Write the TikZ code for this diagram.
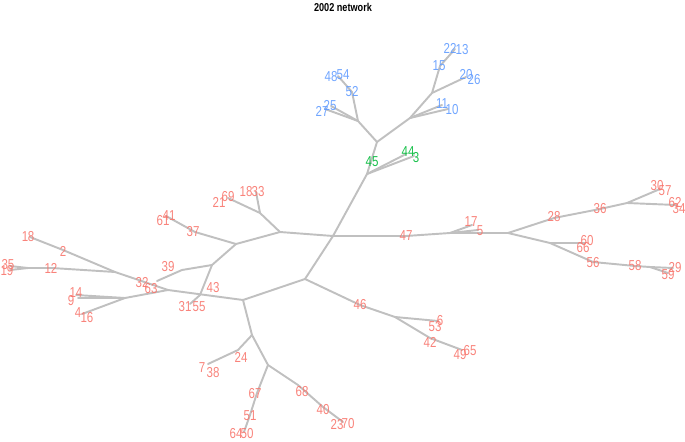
\documentclass[tikz,border=0pt]{standalone}
\usepackage{fontspec}
\usepackage{graphicx}
\setmainfont{Liberation Sans}
\definecolor{lred}{HTML}{F8766D}
\definecolor{lgreen}{HTML}{00BA38}
\definecolor{lblue}{HTML}{619CFF}
\definecolor{edgegray}{HTML}{C0C0C0}
\newcommand{\sq}[1]{\scalebox{0.8}[1]{#1}}
\tikzset{
  br/.style={draw=edgegray, line width=1.1pt, line cap=round, line join=round},
  lab/.style={font=\fontsize{8.2}{8}\selectfont, inner sep=0pt, opacity=0.9},
  rl/.style={lab, text=lred},
  gl/.style={lab, text=lgreen},
  bl/.style={lab, text=lblue},
}
\begin{document}
\begin{tikzpicture}[x=0.02cm, y=-0.02cm]
\useasboundingbox (0,0) rectangle (685,442);
% junction and tip coordinates
\coordinate (C) at (333,236);
\coordinate (U1) at (367,174);
\coordinate (Jb) at (377,142);
\coordinate (Ge) at (406,154);
\coordinate (Ge2) at (414,156);
\coordinate (B1) at (358,121);
\coordinate (Be1) at (325,109);
\coordinate (Be1b) at (331,106);
\coordinate (Bp52) at (352,92);
\coordinate (Be2) at (338,76);
\coordinate (B2) at (410,118);
\coordinate (Be3) at (442,105);
\coordinate (Be3b) at (448,109);
\coordinate (B3) at (432,93);
\coordinate (Be4) at (466,77);
\coordinate (Bp15) at (440,66);
\coordinate (Be5) at (455,49);
\coordinate (Rp47) at (406,236);
\coordinate (R1) at (450,233);
\coordinate (Re1) at (472,225);
\coordinate (Re1b) at (478,230);
\coordinate (R2) at (508,233);
\coordinate (Rp28) at (554,218);
\coordinate (Rp36) at (600,209);
\coordinate (R3) at (627,203);
\coordinate (Re2) at (660,189);
\coordinate (Re3) at (676,205);
\coordinate (R4) at (550,243);
\coordinate (Re4) at (585,243);
\coordinate (Rp56) at (593,262);
\coordinate (Rp58) at (635,266);
\coordinate (R5) at (650,267);
\coordinate (Re5) at (673,268);
\coordinate (Re5b) at (668,273);
\coordinate (L1) at (280,232);
\coordinate (L2) at (260,213);
\coordinate (Le1) at (228,198);
\coordinate (Le2) at (256,192);
\coordinate (L3) at (236,244);
\coordinate (Lp37) at (195,232);
\coordinate (Le3) at (166,216);
\coordinate (L4) at (212,265);
\coordinate (Lp39) at (182,270);
\coordinate (Le4) at (157,281);
\coordinate (L5) at (200,295);
\coordinate (Le5) at (190,304);
\coordinate (D1) at (305,279);
\coordinate (D2) at (243,300);
\coordinate (P1) at (168,290);
\coordinate (P0) at (115,272);
\coordinate (Pp2) at (63,250);
\coordinate (Pe1) at (30,237);
\coordinate (Pp12) at (52,268);
\coordinate (Pj) at (28,268);
\coordinate (Pe2) at (10,266);
\coordinate (Pe2b) at (10,270);
\coordinate (P2) at (125,298);
\coordinate (Pe3) at (76,295);
\coordinate (Pe3b) at (78,298);
\coordinate (Pe4) at (82,314);
\coordinate (D3) at (252,335);
\coordinate (Dp24) at (238,350);
\coordinate (De1) at (208,364);
\coordinate (D4) at (268,365);
\coordinate (Dp67) at (257,393);
\coordinate (Dp51) at (250,415);
\coordinate (De2) at (244,432);
\coordinate (Dp68) at (298,385);
\coordinate (Dp40) at (323,407);
\coordinate (De3) at (343,422);
\coordinate (Dp46) at (360,305);
\coordinate (D5) at (395,317);
\coordinate (De4) at (438,321);
\coordinate (Dp42) at (430,338);
\coordinate (De5) at (462,350);
% branches
\draw[br] (C) -- (U1) -- (Jb);
\draw[br] (U1) -- (Ge); \draw[br] (U1) -- (Ge2);
\draw[br] (Jb) -- (B1) -- (Be1); \draw[br] (B1) -- (Be1b);
\draw[br] (B1) -- (Bp52) -- (Be2);
\draw[br] (Jb) -- (B2) -- (Be3); \draw[br] (B2) -- (Be3b);
\draw[br] (B2) -- (B3) -- (Be4);
\draw[br] (B3) -- (Bp15) -- (Be5);
\draw[br] (C) -- (Rp47) -- (R1) -- (Re1); \draw[br] (R1) -- (Re1b);
\draw[br] (R1) -- (R2) -- (Rp28) -- (Rp36) -- (R3) -- (Re2);
\draw[br] (R3) -- (Re3);
\draw[br] (R2) -- (R4) -- (Re4);
\draw[br] (R4) -- (Rp56) -- (Rp58) -- (R5) -- (Re5); \draw[br] (R5) -- (Re5b);
\draw[br] (C) -- (L1) -- (L2) -- (Le1); \draw[br] (L2) -- (Le2);
\draw[br] (L1) -- (L3) -- (Lp37) -- (Le3);
\draw[br] (L3) -- (L4) -- (Lp39) -- (Le4);
\draw[br] (L4) -- (L5) -- (Le5);
\draw[br] (C) -- (D1) -- (D2) -- (P1) -- (P0) -- (Pp2) -- (Pe1);
\draw[br] (P0) -- (Pp12) -- (Pj) -- (Pe2); \draw[br] (Pj) -- (Pe2b);
\draw[br] (P1) -- (P2) -- (Pe3); \draw[br] (P2) -- (Pe3b); \draw[br] (P2) -- (Pe4);
\draw[br] (D2) -- (D3) -- (Dp24) -- (De1);
\draw[br] (D3) -- (D4) -- (Dp67) -- (Dp51) -- (De2);
\draw[br] (D4) -- (Dp68) -- (Dp40) -- (De3);
\draw[br] (D1) -- (Dp46) -- (D5) -- (De4);
\draw[br] (D5) -- (Dp42) -- (De5);
% title
\node[font=\bfseries\fontsize{6.5}{7}\selectfont, inner sep=0pt] (title) at (343,7) {\sq{2002 network}};
% blue labels
\node[bl] (n48) at (331,77) {\sq{48}};
\node[bl] (n54) at (343,75) {\sq{54}};
\node[bl] (n52) at (352,92) {\sq{52}};
\node[bl] (n27) at (322,111) {\sq{27}};
\node[bl] (n25) at (330,106) {\sq{25}};
\node[bl] (n22) at (450,48) {\sq{22}};
\node[bl] (n13) at (462,50) {\sq{13}};
\node[bl] (n15) at (439,66) {\sq{15}};
\node[bl] (n20) at (466,75) {\sq{20}};
\node[bl] (n26) at (474,80) {\sq{26}};
\node[bl] (n11) at (442,104) {\sq{11}};
\node[bl] (n10) at (452,110) {\sq{10}};
% green labels
\node[gl] (n45) at (372,162) {\sq{45}};
\node[gl] (n44) at (408,152) {\sq{44}};
\node[gl] (n3) at (416,158) {\sq{3}};
% red labels
\node[rl] (n21) at (219,202) {\sq{21}};
\node[rl] (n69) at (228,197) {\sq{69}};
\node[rl] (n18) at (246,192) {\sq{18}};
\node[rl] (n33) at (258,192) {\sq{33}};
\node[rl] (n61) at (163,221) {\sq{61}};
\node[rl] (n41) at (169,216) {\sq{41}};
\node[rl] (n37) at (193,232) {\sq{37}};
\node[rl] (n1) at (25,237) {\sq{1}};
\node[rl] (n8) at (31,237) {\sq{8}};
\node[rl] (n2) at (63,251) {\sq{2}};
\node[rl] (n35) at (8,265) {\sq{35}};
\node[rl] (n19) at (7,271) {\sq{19}};
\node[rl] (n12) at (51,268) {\sq{12}};
\node[rl] (n39) at (168,267) {\sq{39}};
\node[rl] (n32) at (142,283) {\sq{32}};
\node[rl] (n63) at (151,289) {\sq{63}};
\node[rl] (n43) at (213,288) {\sq{43}};
\node[rl] (n14) at (76,293) {\sq{14}};
\node[rl] (n9) at (71,301) {\sq{9}};
\node[rl] (n4) at (78,313) {\sq{4}};
\node[rl] (n16) at (87,318) {\sq{16}};
\node[rl] (n31) at (185,307) {\sq{31}};
\node[rl] (n55) at (199,307) {\sq{55}};
\node[rl] (n46) at (360,305) {\sq{46}};
\node[rl] (n6) at (440,321) {\sq{6}};
\node[rl] (n53) at (435,327) {\sq{53}};
\node[rl] (n42) at (430,342) {\sq{42}};
\node[rl] (n49) at (460,355) {\sq{49}};
\node[rl] (n65) at (470,351) {\sq{65}};
\node[rl] (n47) at (406,236) {\sq{47}};
\node[rl] (n17) at (471,222) {\sq{17}};
\node[rl] (n5) at (480,231) {\sq{5}};
\node[rl] (n28) at (554,217) {\sq{28}};
\node[rl] (n36) at (600,209) {\sq{36}};
\node[rl] (n30) at (657,186) {\sq{30}};
\node[rl] (n57) at (665,191) {\sq{57}};
\node[rl] (n62) at (675,203) {\sq{62}};
\node[rl] (n34) at (679,209) {\sq{34}};
\node[rl] (n60) at (587,241) {\sq{60}};
\node[rl] (n66) at (583,248) {\sq{66}};
\node[rl] (n56) at (593,263) {\sq{56}};
\node[rl] (n58) at (635,266) {\sq{58}};
\node[rl] (n29) at (675,268) {\sq{29}};
\node[rl] (n59) at (668,275) {\sq{59}};
\node[rl] (n24) at (241,357) {\sq{24}};
\node[rl] (n7) at (202,368) {\sq{7}};
\node[rl] (n38) at (213,373) {\sq{38}};
\node[rl] (n67) at (255,394) {\sq{67}};
\node[rl] (n51) at (250,416) {\sq{51}};
\node[rl] (n64) at (236,434) {\sq{64}};
\node[rl] (n50) at (247,434) {\sq{50}};
\node[rl] (n68) at (302,392) {\sq{68}};
\node[rl] (n40) at (323,410) {\sq{40}};
\node[rl] (n23) at (337,425) {\sq{23}};
\node[rl] (n70) at (348,424) {\sq{70}};
\end{tikzpicture}
\end{document}
